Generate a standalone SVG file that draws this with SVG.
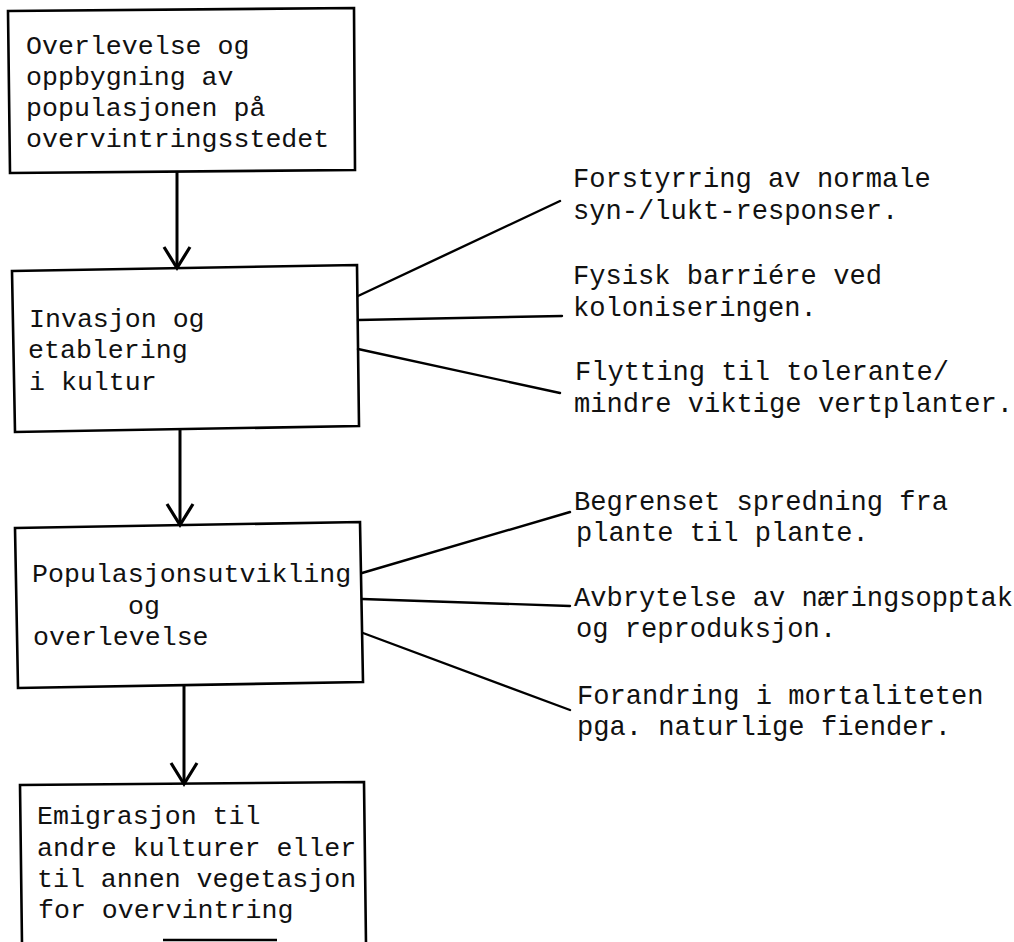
<svg xmlns="http://www.w3.org/2000/svg" width="1014" height="942" viewBox="0 0 1014 942">
  <style>
    .box { fill: #ffffff; stroke: #000; stroke-width: 2.6; stroke-linejoin: miter; }
    .edge { fill: none; stroke: #000; stroke-width: 2.6; }
    .t { font-family: "Liberation Mono", "Courier New", monospace; font-size: 26.6px; fill: #111; }
    .r { font-size: 27.1px; }
    .arrow { stroke: #000; stroke-width: 3; fill: none; }
    .conn { stroke: #000; stroke-width: 2.4; fill: none; stroke-linecap: round; }
  </style>
  <defs>
    <marker id="vhead" markerUnits="userSpaceOnUse" markerWidth="30" markerHeight="30" refX="0" refY="0" orient="auto" overflow="visible">
      <path d="M -21 -13 L 0 0 L -21 13" fill="none" stroke="#000" stroke-width="3.2" stroke-linejoin="miter"/>
    </marker>
  </defs>
  <rect width="1014" height="942" fill="#ffffff"/>

  <g id="node-overlevelse">
    <path class="box" d="M 8 11 L 354 8 L 355 170 L 10 173 Z"/>
    <text class="t" x="26" y="54">Overlevelse og</text>
    <text class="t" x="26" y="85">oppbygning av</text>
    <text class="t" x="26" y="116">populasjonen på</text>
    <text class="t" x="26" y="147">overvintringsstedet</text>
  </g>

  <g id="node-invasjon">
    <path class="box" d="M 12 271 L 357 265 L 359 426 L 15 432 Z"/>
    <text class="t" x="29" y="327">Invasjon og</text>
    <text class="t" x="28" y="358">etablering</text>
    <text class="t" x="29" y="390">i kultur</text>
  </g>

  <g id="node-populasjon">
    <path class="box" d="M 15 528 L 360 522 L 363 682 L 18 688 Z"/>
    <text class="t" x="32" y="582">Populasjonsutvikling</text>
    <text class="t" x="128" y="614">og</text>
    <text class="t" x="33" y="645">overlevelse</text>
  </g>

  <g id="node-emigrasjon">
    <path class="box" d="M 22 944 L 20 785 L 364 782 L 366 944" fill="#ffffff"/>
    <line class="edge" x1="163" y1="940" x2="277" y2="940"/>
    <text class="t" x="37" y="824">Emigrasjon til</text>
    <text class="t" x="37" y="856">andre kulturer eller</text>
    <text class="t" x="37" y="887">til annen vegetasjon</text>
    <text class="t" x="38" y="918">for overvintring</text>
  </g>

  <g id="labels-invasjon">
    <text class="t r" x="573" y="187">Forstyrring av normale</text>
    <text class="t r" x="573" y="219">syn-/lukt-responser.</text>
    <text class="t r" x="573" y="284">Fysisk barriére ved</text>
    <text class="t r" x="573" y="316">koloniseringen.</text>
    <text class="t r" x="575" y="380">Flytting til tolerante/</text>
    <text class="t r" x="574" y="412">mindre viktige vertplanter.</text>
  </g>

  <g id="labels-populasjon">
    <text class="t r" x="574" y="510">Begrenset spredning fra</text>
    <text class="t r" x="576" y="541">plante til plante.</text>
    <text class="t r" x="574" y="606">Avbrytelse av næringsopptak</text>
    <text class="t r" x="576" y="637">og reproduksjon.</text>
    <text class="t r" x="577" y="704">Forandring i mortaliteten</text>
    <text class="t r" x="577" y="735">pga. naturlige fiender.</text>
  </g>

  <g id="connectors">
    <line class="arrow" x1="177" y1="171" x2="177" y2="268" marker-end="url(#vhead)"/>
    <line class="arrow" x1="180" y1="429" x2="180" y2="525" marker-end="url(#vhead)"/>
    <line class="arrow" x1="184" y1="685" x2="184" y2="784" marker-end="url(#vhead)"/>

    <line class="conn" x1="358" y1="296" x2="560" y2="201"/>
    <line class="conn" x1="358" y1="320" x2="562" y2="316"/>
    <line class="conn" x1="358" y1="349" x2="560" y2="393"/>

    <line class="conn" x1="362" y1="573" x2="570" y2="512"/>
    <line class="conn" x1="362" y1="599" x2="570" y2="606"/>
    <line class="conn" x1="363" y1="633" x2="570" y2="710"/>
  </g>
</svg>
